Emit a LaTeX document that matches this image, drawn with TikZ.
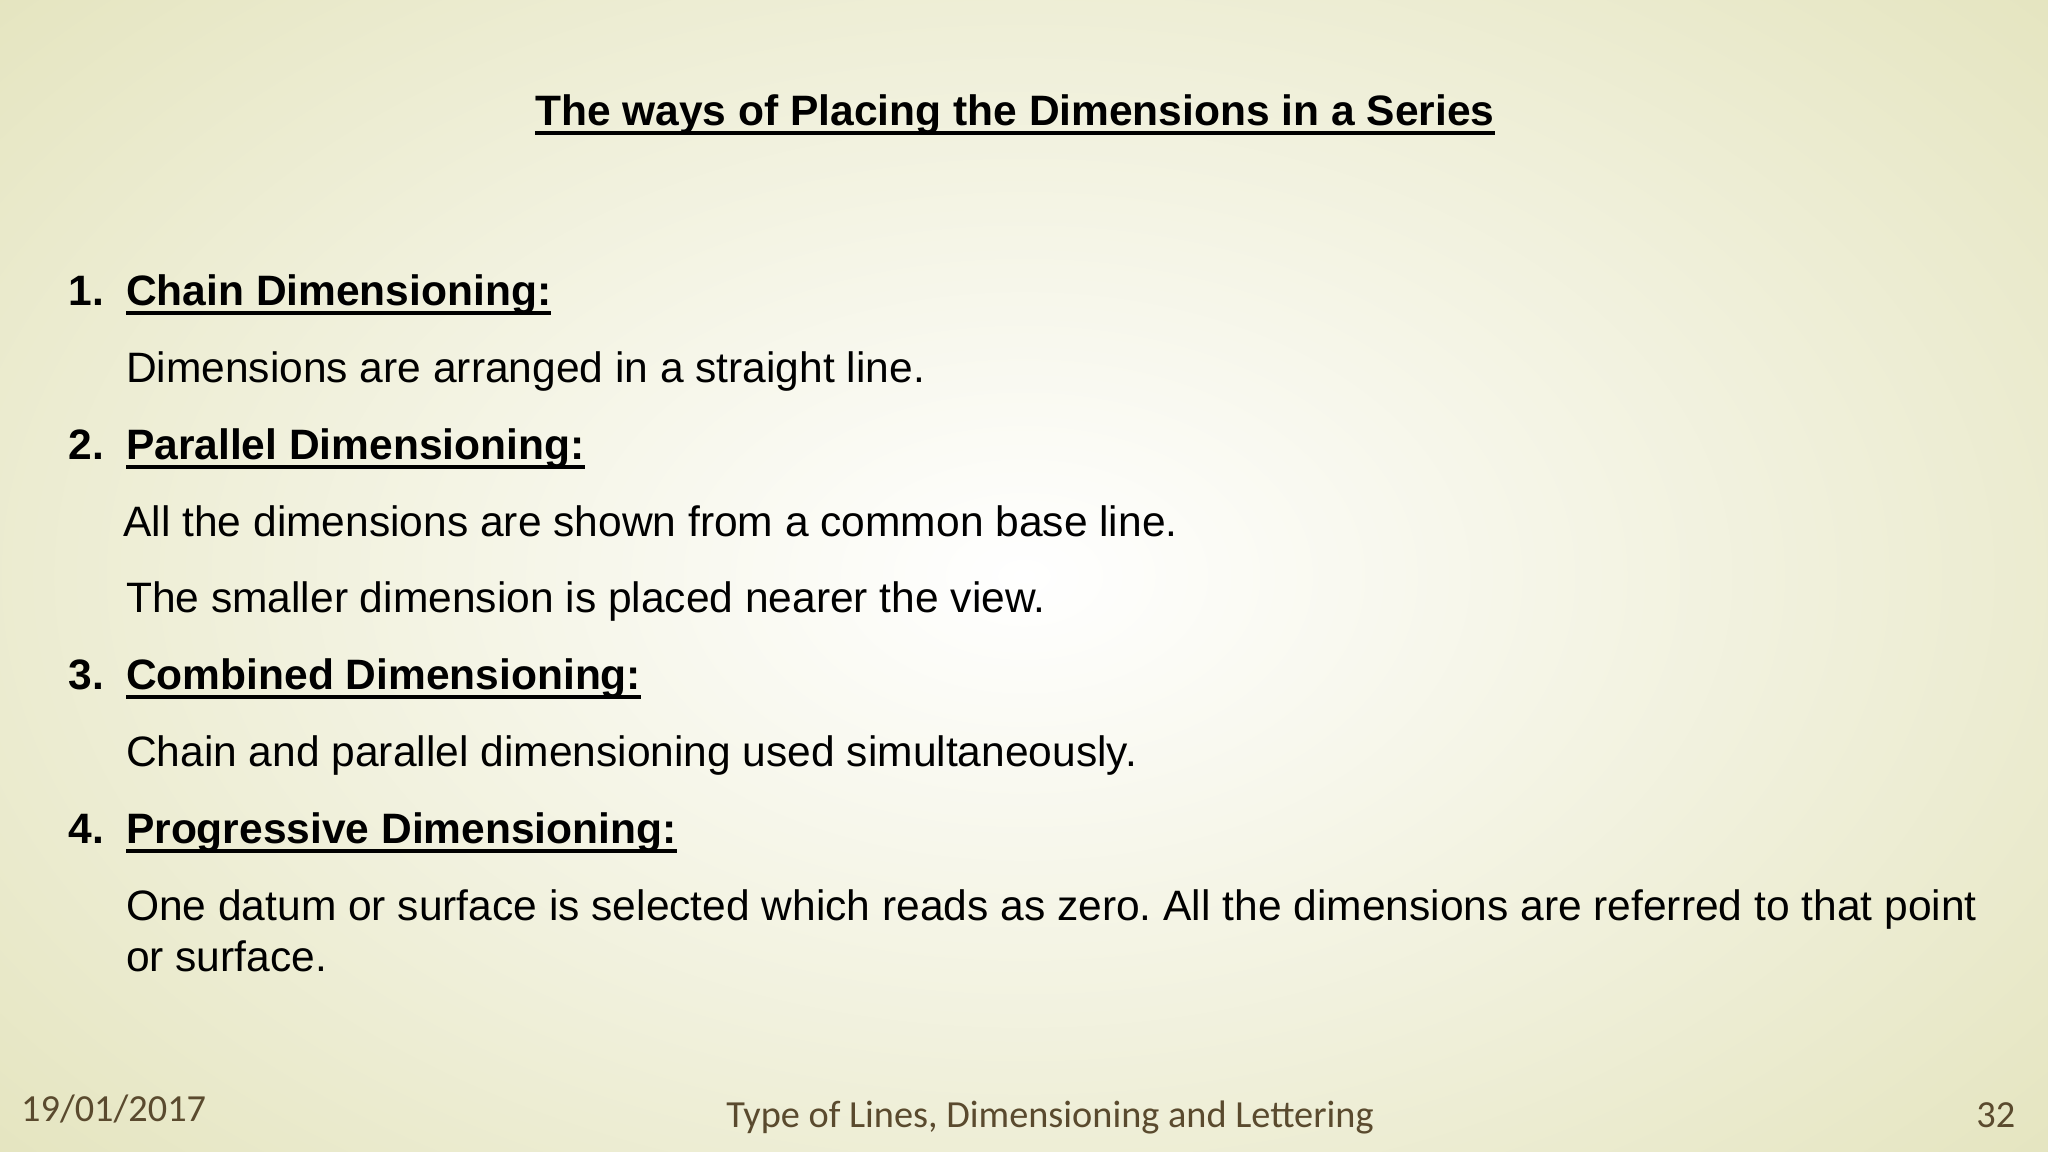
\documentclass[tikz,border=0pt]{standalone}
\usepackage{fontspec}
\setmainfont{Liberation Sans}
\newfontfamily\footfont{Carlito}
\definecolor{edge}{HTML}{E4E4BE}
\definecolor{foot}{HTML}{5A4A2E}
\newcommand\myul[1]{\setbox0\hbox{#1}\leavevmode\rlap{\raisebox{-2.6pt}{\rule{\wd0}{1pt}}}\box0}
\frenchspacing
\begin{document}
\begin{tikzpicture}[x=0.013061cm,y=-0.013061cm,
  body/.style={anchor=base west,inner sep=0pt,font=\fontsize{12.1}{14}\selectfont},
  head/.style={body,font=\fontsize{12.1}{14}\selectfont\bfseries},
  ft/.style={anchor=base,inner sep=0pt,font=\footfont\fontsize{10.9}{12}\selectfont,text=foot}]
\useasboundingbox (0,0) rectangle (1568,882);
\shade[inner color=white,outer color=edge] (-300,-250) rectangle (1868,1132);
\node[head,anchor=base] (title) at (777,96) {\myul{The ways of Placing the Dimensions in a Series}};
\node[head] (n1) at (52,234) {1.};
\node[head] (h1) at (96,234) {\myul{Chain Dimensioning:}};
\node[body] (t1) at (96,293) {Dimensions are arranged in a straight line.};
\node[head] (n2) at (52,352) {2.};
\node[head] (h2) at (96,352) {\myul{Parallel Dimensioning:}};
\node[body] (t2a) at (94,411) {All the dimensions are shown from a common base line.};
\node[body] (t2b) at (96,469) {The smaller dimension is placed nearer the view.};
\node[head] (n3) at (52,528) {3.};
\node[head] (h3) at (96,528) {\myul{Combined Dimensioning:}};
\node[body] (t3) at (96,587) {Chain and parallel dimensioning used simultaneously.};
\node[head] (n4) at (52,646) {4.};
\node[head] (h4) at (96,646) {\myul{Progressive Dimensioning:}};
\node[body] (t4) at (96,705) {One datum or surface is selected which reads as zero. All the dimensions are referred to that point};
\node[body] (t4b) at (96,744) {or surface.};
\node[ft] (date) at (87,859) {19/01/2017};
\node[ft] (foot) at (804,863) {Type of Lines, Dimensioning and Lettering};
\node[ft] (page) at (1528,863) {32};
\end{tikzpicture}
\end{document}
